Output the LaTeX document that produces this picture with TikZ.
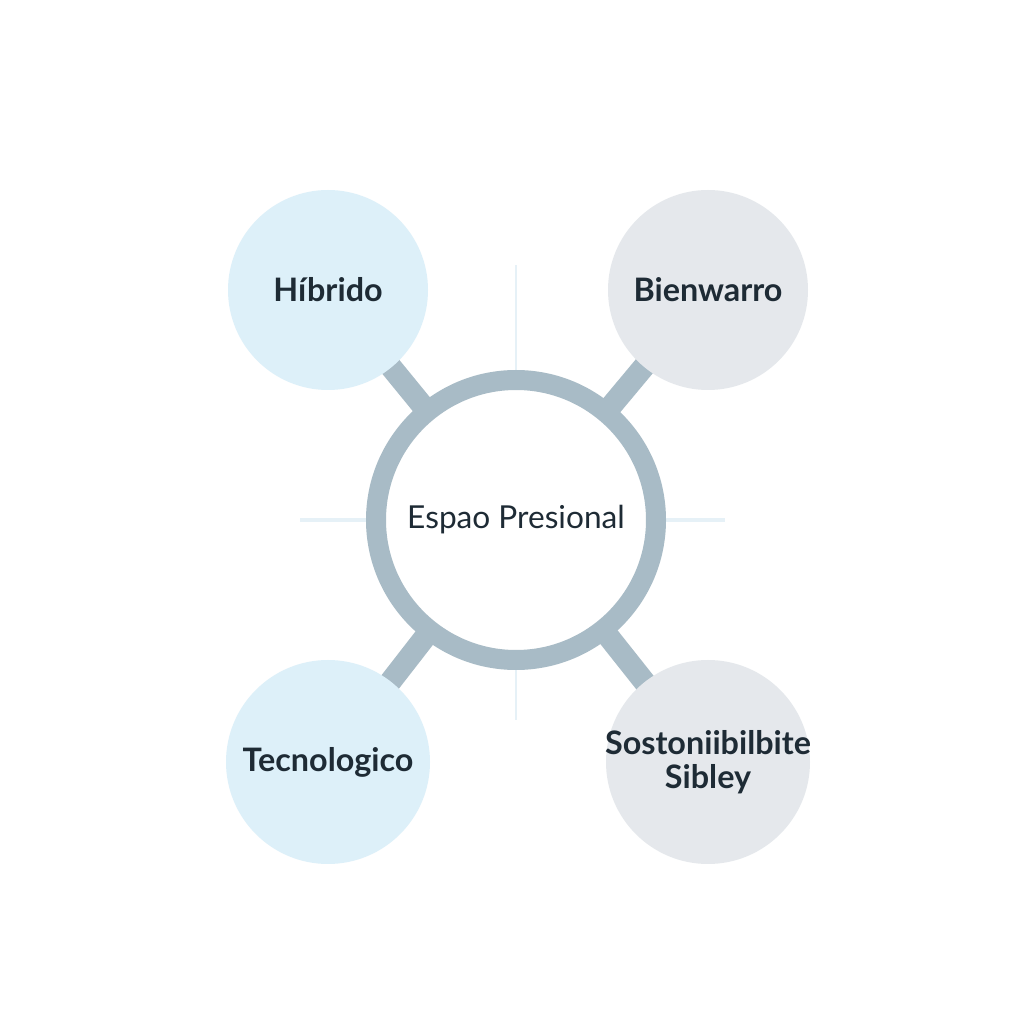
\documentclass[tikz,border=0pt]{standalone}
\usepackage{fontspec}
\setmainfont{Lato}
\usepackage{tikz}
\usetikzlibrary{backgrounds}
\definecolor{ringgray}{RGB}{168, 187, 198}
\definecolor{softblue}{RGB}{221, 240, 249}
\definecolor{softgray}{RGB}{229, 232, 236}
\definecolor{faintline}{RGB}{230, 241, 247}
\definecolor{inkdark}{RGB}{30, 43, 53}

\begin{document}
\begin{tikzpicture}[
    hubnode/.style={circle, fill=white, draw=ringgray, line width=0.2cm, minimum size=2.8cm, inner sep=0pt, text=inkdark, font=\fontsize{9}{10}\selectfont},
    leafnode/.style={circle, minimum size=2cm, inner sep=0pt, text=inkdark, align=center, font=\fontsize{9.2}{9.8}\selectfont\bfseries},
    spoke/.style={draw=ringgray, line width=0.22cm},
    hairline/.style={draw=faintline, line width=0.04cm}
]
    \useasboundingbox (0,0) rectangle (10.24,10.24);

    \node[hubnode] (hub) at (5.16,5.04) {Espao Presional};
    \node[leafnode, fill=softblue] (hibrido) at (3.28,7.34) {Híbrido};
    \node[leafnode, fill=softgray] (bienestar) at (7.08,7.34) {Bienwarro};
    \node[leafnode, fill=softblue, minimum size=2.04cm] (tecno) at (3.28,2.62) {Tecnologico};
    \node[leafnode, fill=softgray, minimum size=2.04cm] (sosten) at (7.08,2.62)
        {\makebox[0pt]{Sostoniibilbite}\\\makebox[0pt]{Sibley}};

    % faint guide marks round the hub
    \coordinate (guideN) at (5.16,7.59);
    \coordinate (guideS) at (5.16,3.04);
    \coordinate (guideW) at (3.00,5.04);
    \coordinate (guideE) at (7.25,5.04);

    \begin{scope}[on background layer]
        \fill[white] (0,0) rectangle (10.24,10.24);
        \draw[spoke] (hub.center) -- (hibrido.center);
        \draw[spoke] (hub.center) -- (bienestar.center);
        \draw[spoke] (hub.center) -- (tecno.center);
        \draw[spoke] (hub.center) -- (sosten.center);
        \draw[hairline, line width=0.02cm] (hub.center) -- (guideN);
        \draw[hairline, line width=0.02cm] (hub.center) -- (guideS);
        \draw[hairline] (hub.center) -- (guideW);
        \draw[hairline] (hub.center) -- (guideE);
    \end{scope}
\end{tikzpicture}
\end{document}
